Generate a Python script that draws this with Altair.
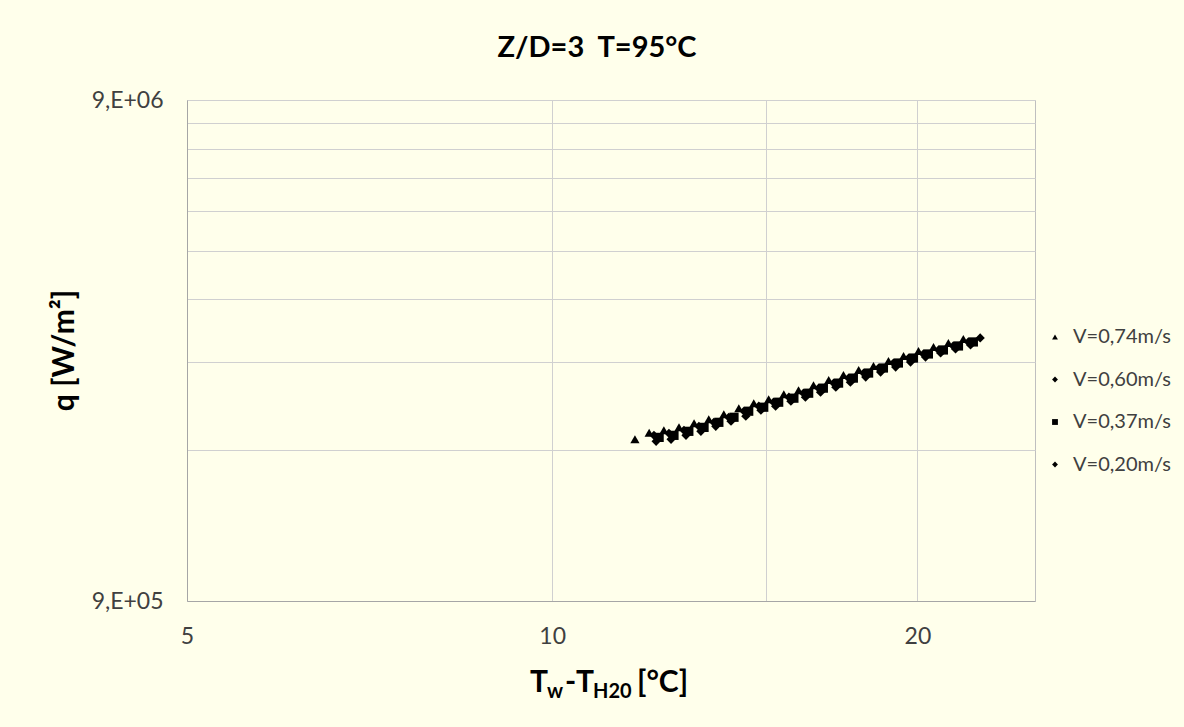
import altair as alt
import pandas as pd

series_names = ["V=0,74m/s", "V=0,60m/s", "V=0,37m/s", "V=0,20m/s"]
shapes = ["triangle-up", "diamond", "square", "diamond"]

# V = 0.74 m/s (triangles)
dt_074 = [11.70, 12.02, 12.36, 12.72, 13.09, 13.46, 13.85, 14.25, 14.66, 15.08, 15.52, 15.96,
          16.42, 16.90, 17.38, 17.89, 18.40, 18.93, 19.48, 20.04, 20.62, 21.21, 21.82]
q_074 = [1.892e6, 1.950e6, 1.972e6, 2.000e6, 2.037e6, 2.075e6, 2.123e6, 2.183e6, 2.234e6, 2.275e6,
         2.328e6, 2.372e6, 2.427e6, 2.484e6, 2.542e6, 2.601e6, 2.650e6, 2.712e6, 2.775e6, 2.840e6,
         2.892e6, 2.946e6, 3.001e6]

# V = 0.60 m/s (diamonds)
dt_060 = [12.13, 12.48, 12.84, 13.21, 13.59, 13.98, 14.39, 14.80, 15.22, 15.67, 16.11, 16.58,
          17.06, 17.55, 18.06, 18.58, 19.11, 19.67, 20.23, 20.82, 21.41, 22.03, 22.53]
q_060 = [1.927e6, 1.945e6, 1.972e6, 2.009e6, 2.046e6, 2.094e6, 2.153e6, 2.203e6, 2.244e6, 2.296e6,
         2.339e6, 2.394e6, 2.450e6, 2.507e6, 2.566e6, 2.626e6, 2.687e6, 2.749e6, 2.801e6, 2.853e6,
         2.906e6, 2.960e6, 3.015e6]

# V = 0.37 m/s (squares)
dt_037 = [12.25, 12.60, 12.96, 13.34, 13.72, 14.12, 14.52, 14.94, 15.37, 15.82, 16.27, 16.73,
          17.22, 17.71, 18.23, 18.75, 19.29, 19.85, 20.42, 21.01, 21.62, 22.24]
q_037 = [1.909e6, 1.927e6, 1.963e6, 1.999e6, 2.046e6, 2.094e6, 2.153e6, 2.193e6, 2.244e6, 2.286e6,
         2.339e6, 2.394e6, 2.450e6, 2.507e6, 2.566e6, 2.626e6, 2.687e6, 2.749e6, 2.801e6, 2.853e6,
         2.906e6, 2.960e6]

# V = 0.20 m/s (diamonds)
dt_020 = [12.18, 12.53, 12.89, 13.26, 13.64, 14.04, 14.44, 14.86, 15.28, 15.73, 16.17, 16.64,
          17.13, 17.61, 18.13, 18.65, 19.19, 19.74, 20.31, 20.90, 21.50, 22.12]
q_020 = [1.875e6, 1.892e6, 1.927e6, 1.963e6, 2.009e6, 2.056e6, 2.104e6, 2.163e6, 2.203e6, 2.254e6,
         2.296e6, 2.350e6, 2.405e6, 2.461e6, 2.519e6, 2.578e6, 2.638e6, 2.699e6, 2.762e6, 2.814e6,
         2.866e6, 2.919e6]

x_ticks = [5, 10, 15, 20]
y_ticks = [900000, 1800000, 2700000, 3600000, 4500000, 5400000, 6300000, 7200000, 8100000, 9000000]

frames = []
for name, xs, ys in [(series_names[0], dt_074, q_074), (series_names[1], dt_060, q_060),
                     (series_names[2], dt_037, q_037), (series_names[3], dt_020, q_020)]:
    frames.append(pd.DataFrame({"dt": xs, "q": ys, "series": name}))
df = pd.concat(frames, ignore_index=True)

FONT = "Lato"
BG = "#FFFFEB"

points = alt.Chart(df).mark_point(filled=True, size=85, opacity=1, strokeWidth=0).encode(
    x=alt.X("dt:Q",
            scale=alt.Scale(type="log", domain=[5, 25], nice=False),
            axis=alt.Axis(values=x_ticks, labelExpr="datum.value == 15 ? '' : datum.label",
                          title=None, ticks=False, labelPadding=24, labelFontSize=23,
                          labelFont=FONT, labelColor="#404040", domainColor="#A6A6A6",
                          gridColor="#D0D0D0", labelFlush=False)),
    y=alt.Y("q:Q",
            scale=alt.Scale(type="log", domain=[900000, 9000000], nice=False),
            axis=alt.Axis(values=y_ticks,
                          labelExpr="datum.value == 900000 ? '9,E+05' : (datum.value == 9000000 ? '9,E+06' : '')",
                          title="q [W/m²]", titleFont=FONT, titleFontSize=30, titleFontWeight="bold",
                          titleColor="#000000", titleX=-123, titleY=250, titleAngle=-90,
                          titleAlign="center", titleBaseline="middle",
                          ticks=False, labelPadding=24, labelFontSize=23, labelFont=FONT,
                          labelColor="#404040", domainColor="#A6A6A6", gridColor="#D0D0D0",
                          labelFlush=False)),
    color=alt.value("#000000"),
    shape=alt.Shape("series:N",
                    scale=alt.Scale(domain=series_names, range=shapes),
                    legend=alt.Legend(title=None, orient="none", legendX=858, legendY=227,
                                      labelFont=FONT, labelFontSize=20, labelColor="#404040",
                                      symbolSize=34, symbolFillColor="#000000",
                                      symbolStrokeColor="#000000", symbolStrokeWidth=0,
                                      rowPadding=22.5, labelOffset=8, padding=0)),
)

one = pd.DataFrame({"k": [0]})


def piece(s, x, y, size):
    return alt.Chart(one).mark_text(
        text=s, align="left", baseline="alphabetic", font=FONT, fontWeight="bold",
        fontSize=size, color="#000000"
    ).encode(x=alt.value(x), y=alt.value(y))


xtitle = [
    piece("T", 343, 592, 30),
    piece("w", 360, 598, 20),
    piece("-", 378, 592, 30),
    piece("T", 389, 592, 30),
    piece("H20", 406, 598, 20),
    piece("[°C]", 450, 592, 30),
]

chart = alt.layer(points, *xtitle).properties(
    width=848,
    height=501,
    padding={"left": 187, "top": 100, "right": 149, "bottom": 126},
    autosize=alt.AutoSizeParams(type="none"),
    background=BG,
    title=alt.TitleParams("Z/D=3\u00a0\u00a0T=95°C", font=FONT, fontSize=29, fontWeight="bold",
                          color="#000000", anchor="middle", frame="group", offset=26, dx=-14),
).configure_view(stroke="#BFBFBF", strokeWidth=1)

chart.save("out.html", embed_options={"renderer": "svg", "actions": False})
